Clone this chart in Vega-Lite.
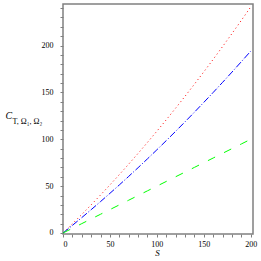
{
  "$schema": "https://vega.github.io/schema/vega-lite/v6.json",
  "width": 190,
  "height": 230,
  "autosize": "none",
  "padding": {"left": 63, "top": 4, "right": 8, "bottom": 27},
  "background": "white",
  "config": {
    "view": {"stroke": "#808080", "strokeWidth": 1.5},
    "axis": {
      "grid": false,
      "domain": false,
      "tickColor": "#808080",
      "tickSize": 3,
      "labelFont": "Liberation Serif",
      "labelFontSize": 8,
      "labelColor": "#000000",
      "labelOverlap": false,
      "titleFont": "Liberation Serif",
      "titleFontWeight": "normal",
      "titleColor": "#000000"
    }
  },
  "data": {
    "values": [
      {"S": 0, "red": 0, "blue": 0, "green": 0},
      {"S": 10, "red": 9.78, "blue": 8.13, "green": 5},
      {"S": 20, "red": 19.8, "blue": 16.43, "green": 10},
      {"S": 30, "red": 30.06, "blue": 24.89, "green": 15},
      {"S": 40, "red": 40.56, "blue": 33.52, "green": 20},
      {"S": 50, "red": 51.3, "blue": 42.32, "green": 25},
      {"S": 60, "red": 62.28, "blue": 51.27, "green": 30},
      {"S": 70, "red": 73.5, "blue": 60.4, "green": 35},
      {"S": 80, "red": 84.96, "blue": 69.69, "green": 40},
      {"S": 90, "red": 96.66, "blue": 79.14, "green": 45},
      {"S": 100, "red": 108.6, "blue": 88.76, "green": 50},
      {"S": 110, "red": 120.78, "blue": 98.54, "green": 55},
      {"S": 120, "red": 133.2, "blue": 108.49, "green": 60},
      {"S": 130, "red": 145.86, "blue": 118.61, "green": 65},
      {"S": 140, "red": 158.76, "blue": 128.89, "green": 70},
      {"S": 150, "red": 171.9, "blue": 139.34, "green": 75},
      {"S": 160, "red": 185.28, "blue": 149.95, "green": 80},
      {"S": 170, "red": 198.9, "blue": 160.72, "green": 85},
      {"S": 180, "red": 212.76, "blue": 171.66, "green": 90},
      {"S": 190, "red": 226.86, "blue": 182.77, "green": 95},
      {"S": 200, "red": 241.2, "blue": 194.04, "green": 100}
    ]
  },
  "encoding": {
    "x": {
      "field": "S", "type": "quantitative",
      "scale": {"domain": [0, 202.4], "nice": false, "zero": false},
      "axis": {
        "values": [0,10,20,30,40,50,60,70,80,90,100,110,120,130,140,150,160,170,180,190,200],
        "labelExpr": "datum.value % 50 == 0 ? datum.label : ''",
        "labelPadding": 3,
        "title": "S",
        "titleFontStyle": "italic",
        "titleFontSize": 9,
        "titleX": 94,
        "titleY": 21,
        "titleBaseline": "alphabetic",
        "titleAlign": "center"
      }
    }
  },
  "layer": [
    {
      "mark": {"type": "line", "color": "#ff0000", "strokeWidth": 1, "strokeDash": [1, 3], "clip": true},
      "encoding": {
        "y": {
          "field": "red", "type": "quantitative",
          "scale": {"domain": [-1.07, 244.3], "nice": false, "zero": false},
          "axis": {
            "values": [0,10,20,30,40,50,60,70,80,90,100,110,120,130,140,150,160,170,180,190,200,210,220,230,240],
            "labelExpr": "datum.value % 50 == 0 ? datum.label : ''",
            "labelPadding": 7,
            "title": "C",
            "titleFontSize": 10,
            "titleFontStyle": "italic",
            "titleAngle": 0,
            "titleAlign": "left",
            "titleBaseline": "alphabetic",
            "titleX": -58,
            "titleY": 114
          }
        }
      }
    },
    {
      "mark": {"type": "line", "color": "#0000ff", "strokeWidth": 1, "strokeDash": [7, 2, 1, 2], "clip": true},
      "encoding": {
        "y": {
          "field": "blue", "type": "quantitative",
          "axis": {
            "orient": "left",
            "ticks": false,
            "labels": false,
            "domain": false,
            "title": "T, Ω₁, Ω₂",
            "titleFontSize": 8,
            "titleAngle": 0,
            "titleAlign": "left",
            "titleBaseline": "alphabetic",
            "titleX": -51,
            "titleY": 119
          }
        }
      }
    },
    {
      "mark": {"type": "line", "color": "#00ff00", "strokeWidth": 1, "strokeDash": [8, 10], "clip": true},
      "encoding": {
        "y": {"field": "green", "type": "quantitative", "axis": null}
      }
    }
  ],
  "resolve": {"axis": {"y": "independent"}}
}
